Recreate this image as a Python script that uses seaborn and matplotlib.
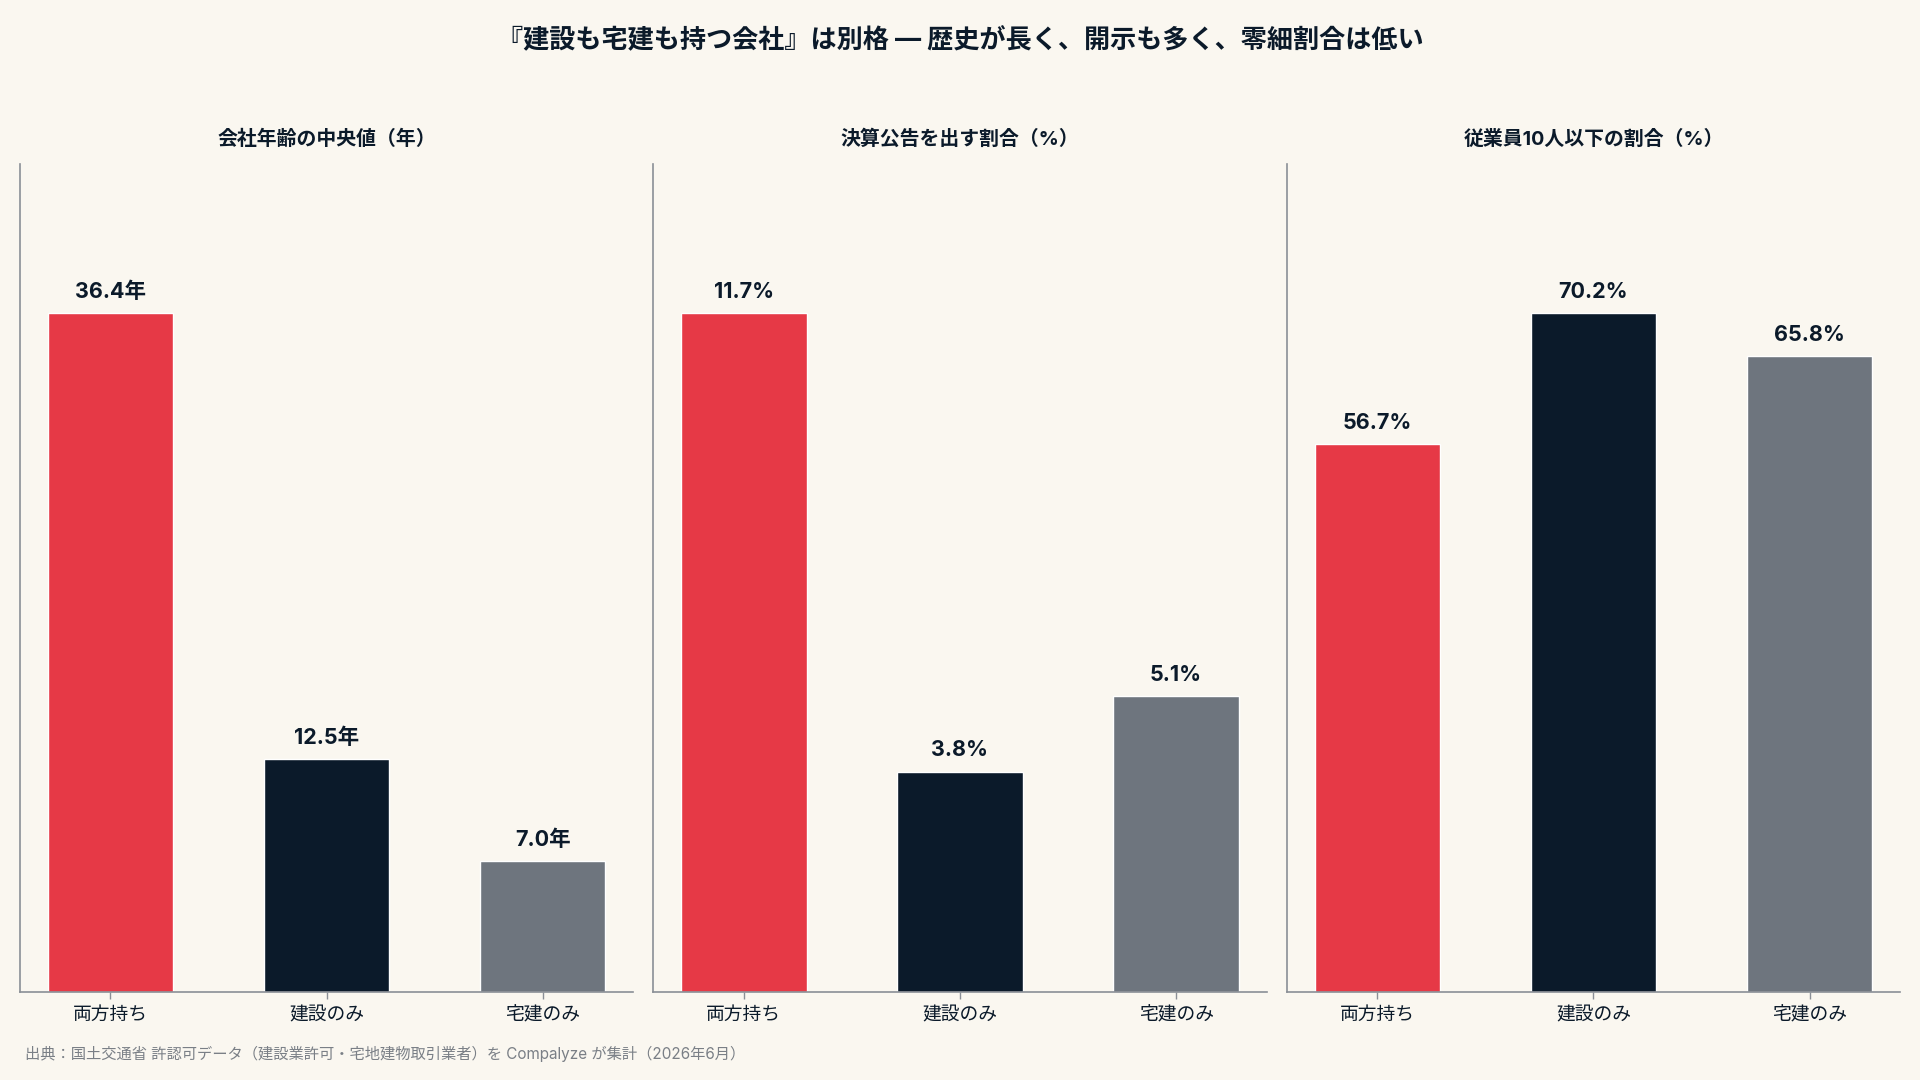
import matplotlib
matplotlib.use("Agg")
import pandas as pd
import seaborn as sns
import matplotlib.pyplot as plt

# categories and values
categories = ["両方持ち", "建設のみ", "宅建のみ"]
age_median = [36.4, 12.5, 7.0]
disclosure_rate = [11.7, 3.8, 5.1]
small_rate = [56.7, 70.2, 65.8]

panel_titles = ["会社年齢の中央値（年）", "決算公告を出す割合（%）", "従業員10人以下の割合（%）"]
label_units = ["年", "%", "%"]

colors = ["#E63946", "#0B1A2A", "#6E757E"]
bg = "#FAF7F0"
ink = "#0B1A2A"

sns.set_theme(style="white")
plt.rcParams['font.family'] = ['Inter', 'Noto Sans CJK JP', 'DejaVu Sans']

fig, axes = plt.subplots(1, 3, figsize=(19.2, 10.8), dpi=100)
fig.patch.set_facecolor(bg)
fig.subplots_adjust(left=0.0102, right=0.9898, top=0.848, bottom=0.0816, wspace=0.032)

for ax, vals, title, unit in zip(axes, [age_median, disclosure_rate, small_rate], panel_titles, label_units):
    df = pd.DataFrame({"区分": categories, "値": vals})
    sns.barplot(data=df, x="区分", y="値", hue="区分", palette=colors,
                width=0.58, legend=False, ax=ax, saturation=1)
    ax.set_facecolor(bg)
    ax.set_ylim(0, max(vals) * 1.22)
    ax.set_xlim(-0.42, 2.42)
    ax.set_yticks([])
    ax.set_xlabel("")
    ax.set_ylabel("")
    ax.set_title(title, fontsize=14.3, fontweight="bold", color=ink, pad=14)
    for c in ax.containers:
        ax.bar_label(c, labels=[f"{v:.1f}{unit}" for v in c.datavalues],
                     padding=8, fontsize=15.5, fontweight="bold", color=ink)
    for s in ["top", "right"]:
        ax.spines[s].set_visible(False)
    for s in ["left", "bottom"]:
        ax.spines[s].set_color("#8A8F96")
        ax.spines[s].set_linewidth(1.2)
    ax.tick_params(axis="x", length=5, width=1, color="#8A8F96",
                   labelsize=13.5, labelcolor=ink, pad=6, bottom=True)

fig.text(0.5, 0.962, "『建設も宅建も持つ会社』は別格 — 歴史が長く、開示も多く、零細割合は低い",
         ha="center", va="center", fontsize=18.8, fontweight="bold", color=ink)
fig.text(0.013, 0.024, "出典：国土交通省 許認可データ（建設業許可・宅地建物取引業者）を Compalyze が集計（2026年6月）",
         ha="left", va="center", fontsize=11, color="#7A7F86")

fig.savefig("out.png", dpi=100, facecolor=bg)
